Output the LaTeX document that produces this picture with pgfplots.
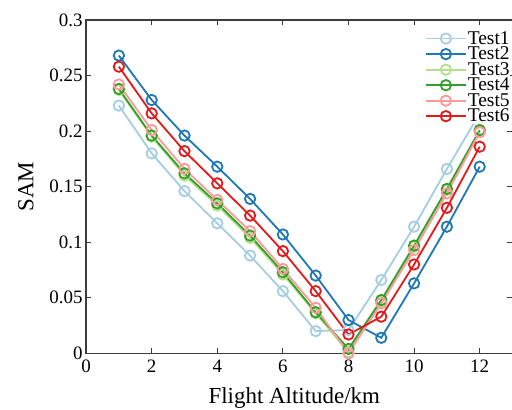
\documentclass[border=0pt]{standalone}
\usepackage{fontspec}
\setmainfont{Liberation Serif}
\usepackage{pgfplots}
\pgfplotsset{compat=1.18}

\definecolor{pA}{RGB}{166,206,227}
\definecolor{pB}{RGB}{31,120,180}
\definecolor{pC}{RGB}{178,223,138}
\definecolor{pD}{RGB}{51,160,44}
\definecolor{pE}{RGB}{251,154,153}
\definecolor{pF}{RGB}{227,26,28}
\definecolor{axgray}{RGB}{60,60,60}

\begin{document}
\begin{tikzpicture}
\begin{axis}[
  scale only axis, width=426bp, height=333bp,
  xmin=0, xmax=13, ymin=0, ymax=0.3,
  xtick={0,2,4,6,8,10,12},
  ytick={0,0.05,0.1,0.15,0.2,0.25,0.3},
  xticklabel={\textrm{\pgfmathprintnumber[assume math mode=true]{\tick}}},
  yticklabel={\textrm{\pgfmathprintnumber[fixed, precision=2, assume math mode=true]{\tick}}},
  tick label style={font=\fontsize{19}{19}\selectfont},
  xticklabel style={yshift=-3bp},
  label style={font=\fontsize{23}{23}\selectfont},
  xlabel={Flight Altitude/km},
  ylabel={SAM},
  xlabel style={yshift=-8bp, xshift=-5bp},
  ylabel style={yshift=9bp},
  axis line style={axgray, line width=1.3bp},
  tick style={axgray, line width=1bp},
  major tick length=5bp,
  every axis plot/.append style={line width=1.8bp, mark=o, mark size=5.2bp},
  legend style={draw=none, fill=white, at={(0.995,0.968)}, anchor=north east,
                font=\fontsize{19.5}{19.5}\selectfont, inner sep=0.5bp,
                nodes={inner sep=0bp}, row sep=1.2bp, column sep=1bp},
  legend cell align=left,
  legend image code/.code={\draw[mark repeat=2, mark phase=2, #1]
    plot coordinates {(0bp,0bp) (20bp,0bp) (40bp,0bp)};},
]
\addplot[color=pA] coordinates {
  (1,0.223) (2,0.180) (3,0.146) (4,0.117) (5,0.088) (6,0.056)
  (7,0.020) (8,0.021) (9,0.066) (10,0.114) (11,0.166) (12,0.216) };
\addplot[color=pB] coordinates {
  (1,0.268) (2,0.228) (3,0.196) (4,0.168) (5,0.139) (6,0.107)
  (7,0.070) (8,0.030) (9,0.014) (10,0.063) (11,0.114) (12,0.168) };
\addplot[color=pC] coordinates {
  (1,0.237) (2,0.195) (3,0.160) (4,0.133) (5,0.104) (6,0.071)
  (7,0.036) (8,0.001) (9,0.047) (10,0.096) (11,0.147) (12,0.200) };
\addplot[color=pD] coordinates {
  (1,0.238) (2,0.196) (3,0.162) (4,0.135) (5,0.106) (6,0.073)
  (7,0.037) (8,0.004) (9,0.048) (10,0.097) (11,0.148) (12,0.201) };
\addplot[color=pE] coordinates {
  (1,0.242) (2,0.201) (3,0.166) (4,0.138) (5,0.110) (6,0.076)
  (7,0.041) (8,0.000) (9,0.045) (10,0.093) (11,0.144) (12,0.199) };
\addplot[color=pF] coordinates {
  (1,0.258) (2,0.216) (3,0.182) (4,0.153) (5,0.124) (6,0.092)
  (7,0.056) (8,0.017) (9,0.033) (10,0.080) (11,0.131) (12,0.186) };
\legend{Test1, Test2, Test3, Test4, Test5, Test6}
\end{axis}
\pgfresetboundingbox
\path (-86bp,-56bp) rectangle (425.5bp,353bp);
\end{tikzpicture}
\end{document}
